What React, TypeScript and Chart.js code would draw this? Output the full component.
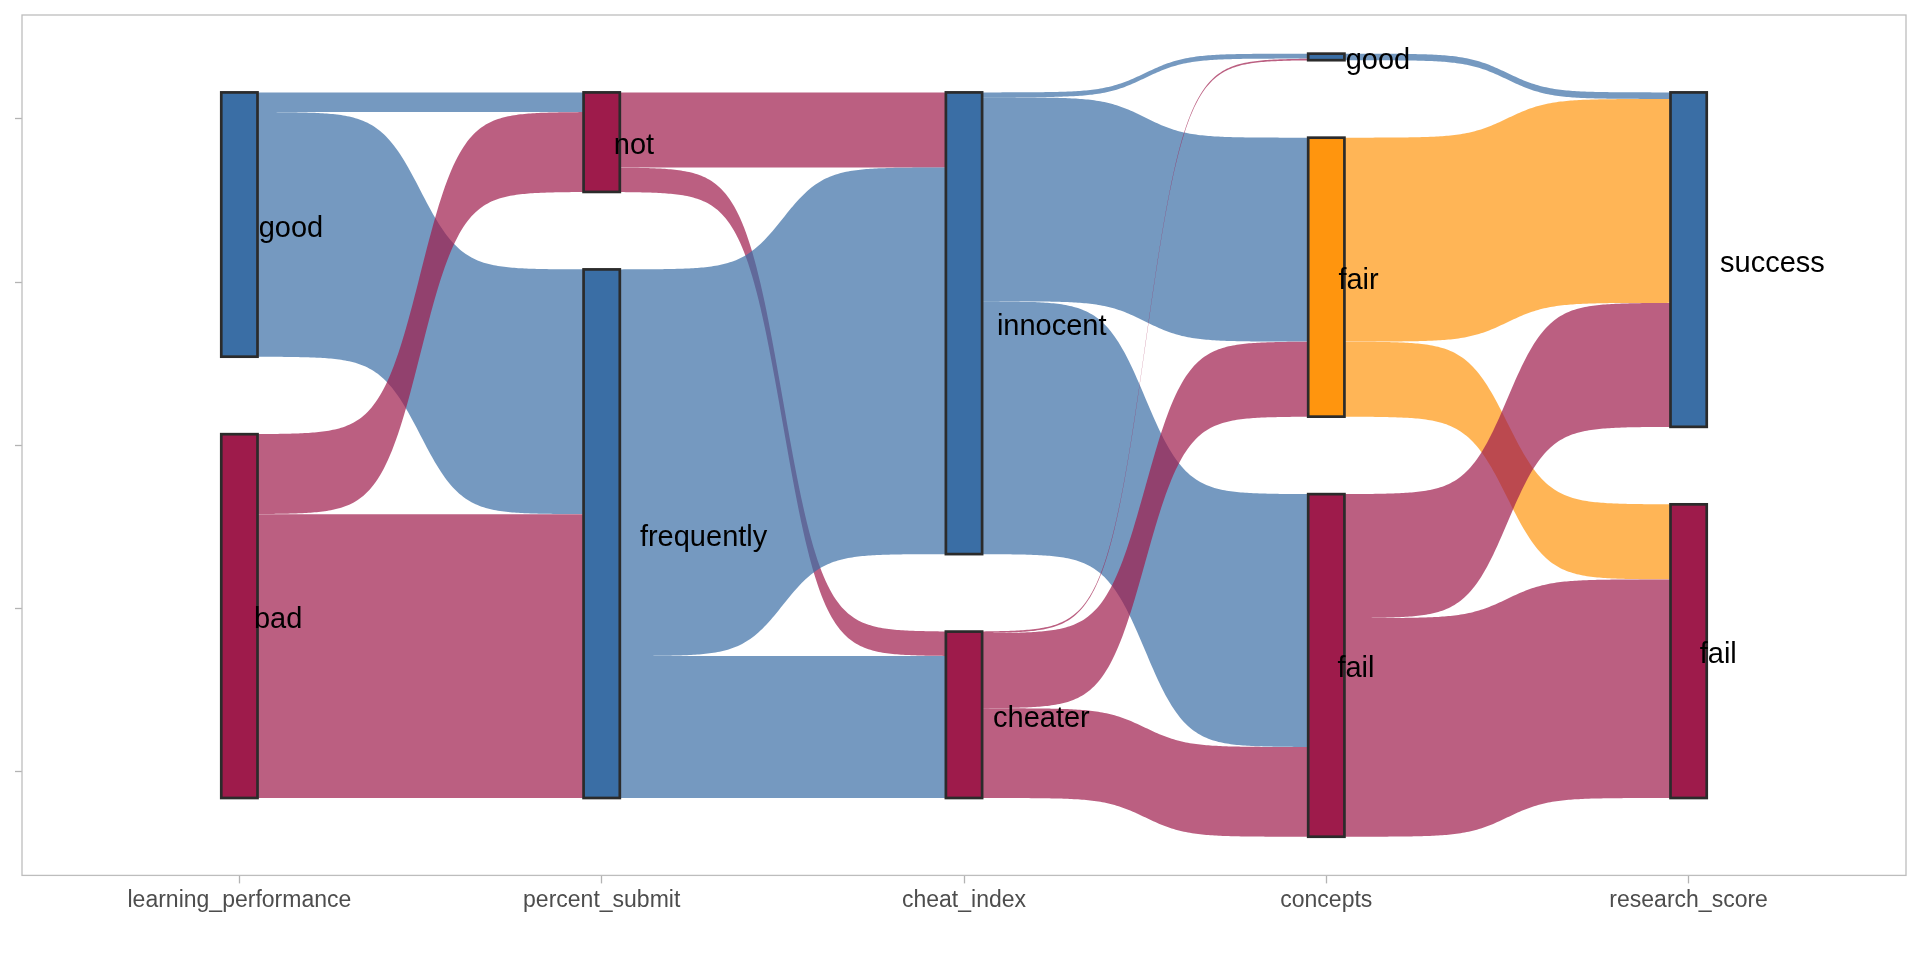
import React, { useEffect, useRef } from 'react';
import { Chart, registerables } from 'chart.js';

Chart.register(...registerables);

// ---- data ----
const AXIS_LABELS = ['learning_performance', 'percent_submit', 'cheat_index', 'concepts', 'research_score'];

const LP_NODES = ['good', 'bad'];
const PS_NODES = ['not', 'frequently'];
const CI_NODES = ['innocent', 'cheater'];
const CO_NODES = ['good', 'fair', 'fail'];
const RS_NODES = ['success', 'fail'];

// colour group of each node
const LP_GROUPS = ['blue', 'red'];
const PS_GROUPS = ['red', 'blue'];
const CI_GROUPS = ['blue', 'red'];
const CO_GROUPS = ['blue', 'orange', 'red'];
const RS_GROUPS = ['blue', 'red'];

// flows: rows = source node, columns = target node
const FLOW_LP_PS = [
  [12, 150],
  [49, 174],
];
const FLOW_PS_CI = [
  [46, 15],
  [237, 87],
];
const FLOW_CI_CO = [
  [3, 125, 155],
  [1, 46, 55],
];
const FLOW_CO_RS = [
  [4, 0],
  [125, 46],
  [76, 134],
];

const Y_TICKS = [-200, -100, 0, 100, 200];

// ---- style ----
const PALETTE: Record<string, number[]> = {
  blue: [58, 110, 165],
  red: [158, 27, 75],
  orange: [255, 149, 14],
};
const NODE_GAP = 47.5;
const NODE_WIDTH = 0.1;
const FLOW_ALPHA = 0.7;
const SMOOTH = 8;
const FONT = "'Liberation Sans', Arial, sans-serif";

const STAGES = [LP_NODES, PS_NODES, CI_NODES, CO_NODES, RS_NODES];
const GROUPS = [LP_GROUPS, PS_GROUPS, CI_GROUPS, CO_GROUPS, RS_GROUPS];
const FLOWS = [FLOW_LP_PS, FLOW_PS_CI, FLOW_CI_CO, FLOW_CO_RS];

function nodeSizes(s: number): number[] {
  if (s === 0) return FLOWS[0].map((r) => r.reduce((a, b) => a + b, 0));
  const f = FLOWS[s - 1];
  return STAGES[s].map((_, j) => f.reduce((a, r) => a + r[j], 0));
}

function nodeTops(s: number): number[] {
  const sizes = nodeSizes(s);
  const total = sizes.reduce((a, b) => a + b, 0) + NODE_GAP * (sizes.length - 1);
  let y = total / 2;
  return sizes.map((v) => {
    const t = y;
    y -= v + NODE_GAP;
    return t;
  });
}

const rgba = (g: string, a: number) => {
  const c = PALETTE[g];
  return `rgba(${c[0]},${c[1]},${c[2]},${a})`;
};

const sankeyPlugin = {
  id: 'sankeyDraw',
  afterDatasetsDraw(chart: any) {
    const ctx = chart.ctx as CanvasRenderingContext2D;
    const xs = chart.scales.x;
    const ys = chart.scales.y;
    const area = chart.chartArea;

    // flows
    for (let s = 0; s < FLOWS.length; s++) {
      const outOff = nodeTops(s).slice();
      const inOff = nodeTops(s + 1).slice();
      const x0 = xs.getPixelForValue(s + 1 + NODE_WIDTH / 2);
      const x1 = xs.getPixelForValue(s + 2 - NODE_WIDTH / 2);
      FLOWS[s].forEach((row, i) => {
        row.forEach((v, j) => {
          if (v <= 0) return;
          const a0 = outOff[i];
          const b0 = a0 - v;
          outOff[i] = b0;
          const a1 = inOff[j];
          const b1 = a1 - v;
          inOff[j] = b1;
          const n = 160;
          ctx.save();
          ctx.beginPath();
          for (let k = 0; k <= n; k++) {
            const t = -SMOOTH + (2 * SMOOTH * k) / n;
            const f = 1 / (1 + Math.exp(-t));
            const px = x0 + (k / n) * (x1 - x0);
            const py = ys.getPixelForValue(a0 + f * (a1 - a0));
            if (k === 0) ctx.moveTo(px, py);
            else ctx.lineTo(px, py);
          }
          for (let k = n; k >= 0; k--) {
            const t = -SMOOTH + (2 * SMOOTH * k) / n;
            const f = 1 / (1 + Math.exp(-t));
            const px = x0 + (k / n) * (x1 - x0);
            const py = ys.getPixelForValue(b0 + f * (b1 - b0));
            ctx.lineTo(px, py);
          }
          ctx.closePath();
          ctx.fillStyle = rgba(GROUPS[s][i], FLOW_ALPHA);
          ctx.fill();
          ctx.restore();
        });
      });
    }

    // nodes
    STAGES.forEach((nodes, s) => {
      const sizes = nodeSizes(s);
      const tops = nodeTops(s);
      const xl = xs.getPixelForValue(s + 1 - NODE_WIDTH / 2);
      const xr = xs.getPixelForValue(s + 1 + NODE_WIDTH / 2);
      nodes.forEach((_, i) => {
        const yt = ys.getPixelForValue(tops[i]);
        const yb = ys.getPixelForValue(tops[i] - sizes[i]);
        ctx.save();
        ctx.fillStyle = rgba(GROUPS[s][i], 1);
        ctx.fillRect(xl, yt, xr - xl, yb - yt);
        ctx.strokeStyle = '#2b2b2b';
        ctx.lineWidth = 2.7;
        ctx.strokeRect(xl, yt, xr - xl, yb - yt);
        ctx.restore();
      });
    });

    // labels
    ctx.save();
    ctx.font = `29px ${FONT}`;
    ctx.fillStyle = '#000000';
    ctx.textBaseline = 'middle';
    ctx.textAlign = 'left';
    STAGES.forEach((nodes, s) => {
      const sizes = nodeSizes(s);
      const tops = nodeTops(s);
      const xc = xs.getPixelForValue(s + 1);
      nodes.forEach((name, i) => {
        const w = ctx.measureText(name).width;
        const yc = ys.getPixelForValue(tops[i] - sizes[i] / 2);
        ctx.fillText(name, xc + 0.3 * w, yc + 4);
      });
    });
    ctx.restore();

    // panel border
    ctx.save();
    ctx.strokeStyle = '#bdbdbd';
    ctx.lineWidth = 1.3;
    ctx.strokeRect(area.left, area.top, area.right - area.left, area.bottom - area.top);
    ctx.restore();
  },
};

export default function App() {
  const ref = useRef<HTMLCanvasElement | null>(null);
  useEffect(() => {
    if (!ref.current) return;
    const chart = new Chart(ref.current, {
      type: 'scatter',
      data: { datasets: [] },
      options: {
        animation: false,
        responsive: false,
        devicePixelRatio: 1,
        layout: { padding: { left: 15, top: 15, right: 14, bottom: 43 } },
        plugins: { legend: { display: false }, tooltip: { enabled: false }, title: { display: false } },
        scales: {
          x: {
            type: 'linear',
            min: 0.4,
            max: 5.6,
            afterBuildTicks: (scale: any) => {
              scale.ticks = AXIS_LABELS.map((_, i) => ({ value: i + 1 }));
            },
            ticks: {
              autoSkip: false,
              maxRotation: 0,
              padding: 3,
              color: '#4d4d4d',
              font: { family: FONT, size: 23 },
              callback: (v: any) => AXIS_LABELS[Number(v) - 1] ?? '',
            },
            grid: {
              display: true,
              drawOnChartArea: false,
              drawTicks: true,
              tickLength: 8,
              tickColor: '#b3b3b3',
              tickWidth: 1.3,
            },
            border: { display: false },
          },
          y: {
            type: 'linear',
            min: -263.7,
            max: 263.7,
            afterBuildTicks: (scale: any) => {
              scale.ticks = Y_TICKS.map((v) => ({ value: v }));
            },
            ticks: { display: false },
            grid: {
              display: true,
              drawOnChartArea: false,
              drawTicks: true,
              tickLength: 7,
              tickColor: '#b3b3b3',
              tickWidth: 1.3,
            },
            border: { display: false },
          },
        },
      },
      plugins: [sankeyPlugin],
    } as any);
    return () => chart.destroy();
  }, []);
  return (
    <div style={{ position: 'fixed', left: 0, top: 0, width: 1920, height: 960, background: '#ffffff' }}>
      <canvas ref={ref} width={1920} height={960} style={{ display: 'block' }} />
    </div>
  );
}
